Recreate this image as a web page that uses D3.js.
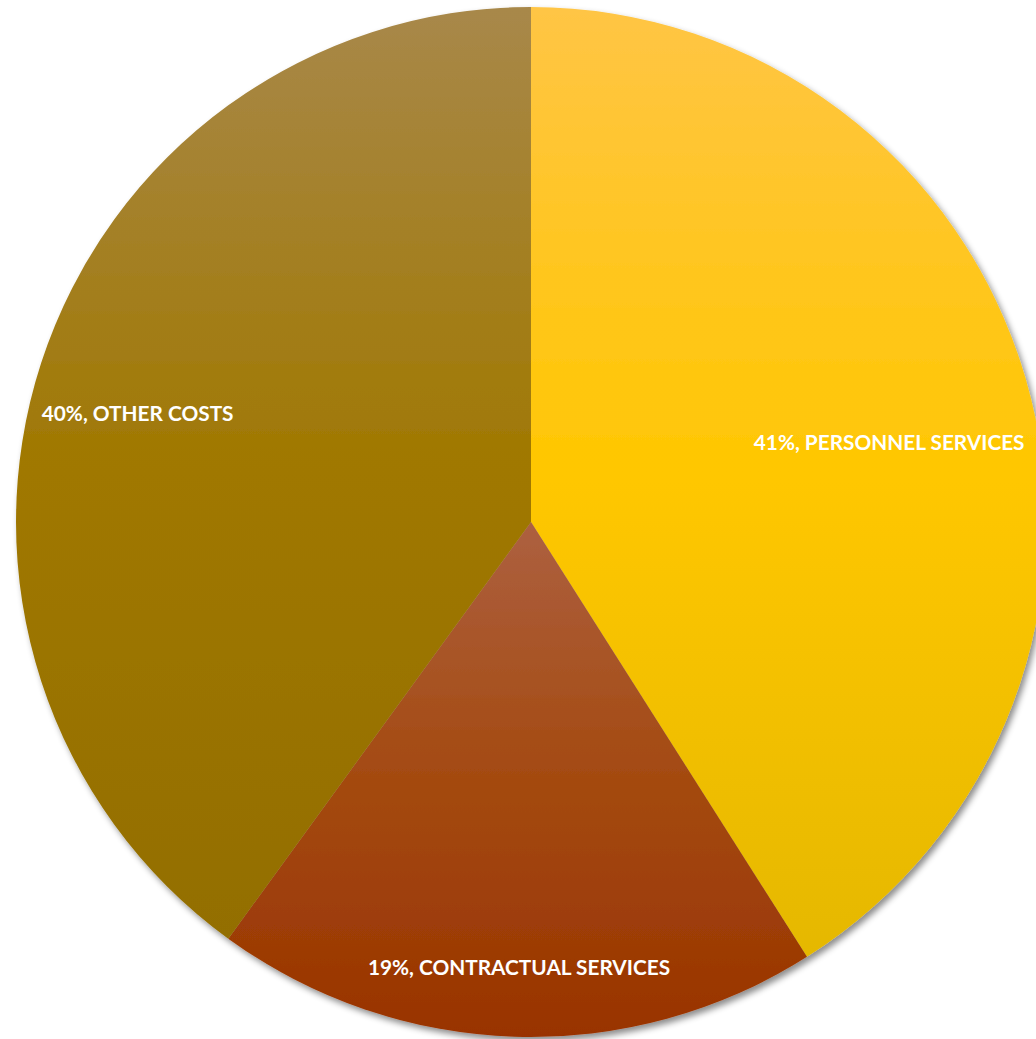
<!DOCTYPE html>
<html>
<head>
<meta charset="utf-8">
<script src="https://cdn.jsdelivr.net/npm/d3@7"></script>
<style>
  body { margin: 0; background: #fff; }
  svg { display: block; }
</style>
</head>
<body>
<div id="chart"></div>
<script>
var width = 1036;
var height = 1039;

// data
var categories = ["PERSONNEL SERVICES", "CONTRACTUAL SERVICES", "OTHER COSTS"];
var shares = [41, 19, 40];

// gradient colours per slice: top, middle, bottom
var topColors = ["#ffc545", "#ad6040", "#a8884a"];
var midColors = ["#ffc700", "#a44a10", "#a07800"];
var bottomColors = ["#e5b800", "#993300", "#936e00"];

// label placement along the mid angle (fraction of radius) + small nudge
var labelRadius = [0.71, 0.865, 0.795];
var labelNudge = [[7, 23], [2, 0], [-4, 18]];

var cx = 531, cy = 522, radius = 515;

var svg = d3.select("#chart")
    .append("svg")
    .attr("width", width)
    .attr("height", height);

var defs = svg.append("defs");

var shadow = defs.append("filter")
    .attr("id", "shadow")
    .attr("x", "-10%").attr("y", "-10%")
    .attr("width", "120%").attr("height", "120%");
shadow.append("feDropShadow")
    .attr("dx", 3).attr("dy", 4)
    .attr("stdDeviation", 3)
    .attr("flood-color", "#000")
    .attr("flood-opacity", 0.45);

categories.forEach(function(c, i) {
    var g = defs.append("linearGradient")
        .attr("id", "grad" + i)
        .attr("x1", 0).attr("y1", 0)
        .attr("x2", 0).attr("y2", 1);
    g.append("stop").attr("offset", "0%").attr("stop-color", topColors[i]);
    g.append("stop").attr("offset", "50%").attr("stop-color", midColors[i]);
    g.append("stop").attr("offset", "100%").attr("stop-color", bottomColors[i]);
});

var pie = d3.pie().sort(null).value(function(d) { return d; });
var arcs = pie(shares);

var arc = d3.arc().innerRadius(0).outerRadius(radius);

var chart = svg.append("g")
    .attr("transform", "translate(" + cx + "," + cy + ")");

chart.append("g")
    .attr("filter", "url(#shadow)")
    .selectAll("path")
    .data(arcs)
    .enter()
    .append("path")
    .attr("d", arc)
    .attr("fill", function(d, i) { return "url(#grad" + i + ")"; });

chart.selectAll("text.label")
    .data(arcs)
    .enter()
    .append("text")
    .attr("class", "label")
    .attr("transform", function(d, i) {
        var r = radius * labelRadius[i];
        var p = d3.arc().innerRadius(r).outerRadius(r).centroid(d);
        return "translate(" + (p[0] + labelNudge[i][0]) + "," + (p[1] + labelNudge[i][1]) + ")";
    })
    .attr("text-anchor", "middle")
    .attr("dy", "0.35em")
    .style("font-family", "Lato, 'Open Sans', sans-serif")
    .style("font-weight", "bold")
    .style("font-size", "20.8px")
    .style("fill", "#fff")
    .text(function(d, i) { return shares[i] + "%, " + categories[i]; });
</script>
</body>
</html>
